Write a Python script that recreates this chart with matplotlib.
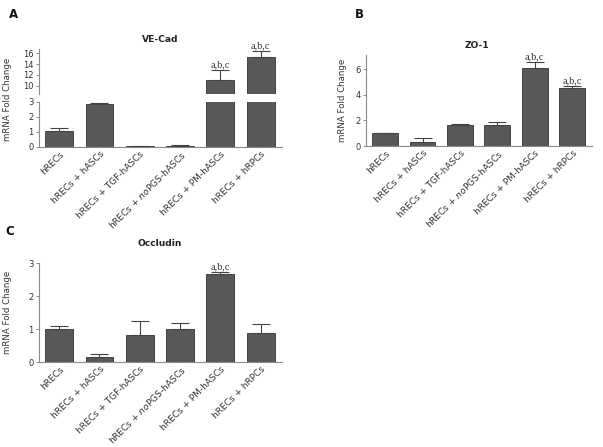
import matplotlib
matplotlib.use("Agg")
import matplotlib.pyplot as plt
import numpy as np

categories = ["hRECs", "hRECs + hASCs", "hRECs + TGF-hASCs",
              r"hRECs + $\it{no}$PGS-hASCs", "hRECs + PM-hASCs", "hRECs + hRPCs"]

vecad_mean = [1.05, 2.85, 0.03, 0.07, 11.1, 15.3]
vecad_err = [0.17, 0.08, 0.02, 0.06, 1.8, 1.0]
zo1_mean = [1.0, 0.35, 1.62, 1.6, 6.1, 4.5]
zo1_err = [0.02, 0.27, 0.13, 0.28, 0.45, 0.15]
occl_mean = [1.0, 0.15, 0.82, 1.0, 2.67, 0.87]
occl_err = [0.1, 0.08, 0.42, 0.19, 0.08, 0.28]

vecad_sig = ["", "", "", "", "a,b,c", "a,b,c"]
zo1_sig = ["", "", "", "", "a,b,c", "a,b,c"]
occl_sig = ["", "", "", "", "a,b,c", ""]

BAR = "#585858"
EDGE = "#333333"
SPINE = "#8a8a8a"
TXT = "#333333"
TICKFS = 6.5
YTICKFS = 6.0

W, H = 603, 447
fig = plt.figure(figsize=(W / 100, H / 100), dpi=100)


def ax_at(x0, y0, x1, y1):
    return fig.add_axes([x0 / W, 1 - y1 / H, (x1 - x0) / W, (y1 - y0) / H])


def style(ax, bottom=True):
    for s in ["top", "right"]:
        ax.spines[s].set_visible(False)
    ax.spines["left"].set_color(SPINE)
    ax.spines["bottom"].set_color(SPINE)
    ax.spines["left"].set_linewidth(0.8)
    ax.spines["bottom"].set_linewidth(0.8)
    if not bottom:
        ax.spines["bottom"].set_visible(False)
    ax.tick_params(axis="y", labelsize=YTICKFS, colors=SPINE, labelcolor=TXT,
                   length=2.5, width=0.7, pad=1.5)
    ax.tick_params(axis="x", length=0, labelsize=TICKFS, labelcolor=TXT, pad=2)


def bars(ax, mean, err, xr=(-0.5, 5.53)):
    x = np.arange(len(mean))
    ax.bar(x, mean, width=0.69, color=BAR, edgecolor=EDGE, linewidth=0.6, zorder=2)
    ax.errorbar(x, mean, yerr=[np.zeros(len(err)), err], fmt="none",
                ecolor="#444444", elinewidth=0.8, capsize=6.5, capthick=0.8, zorder=3)
    ax.set_xlim(*xr)
    return x


def xlabels(ax, x):
    ax.set_xticks(x)
    ax.set_xticklabels(categories, rotation=45, ha="right", rotation_mode="anchor")


def sigtext(ax, x, mean, err, sig, offset):
    for xi, m, e, s in zip(x, mean, err, sig):
        if s:
            ax.text(xi, m + e + offset, s, ha="center", va="bottom",
                    fontsize=7.4, family="Liberation Serif", color=TXT)


# ---- Panel A: VE-Cad (broken axis) ----
axA_lo = ax_at(39, 101.7, 282, 146.7)
axA_hi = ax_at(39, 49.3, 282, 94)
style(axA_lo)
style(axA_hi, bottom=False)
xA = bars(axA_lo, vecad_mean, vecad_err)
bars(axA_hi, vecad_mean, vecad_err)
axA_lo.set_ylim(0, 3)
axA_lo.set_yticks([0, 1, 2, 3])
axA_hi.set_ylim(8.5, 16.7)
axA_hi.set_yticks([10, 12, 14, 16])
axA_hi.set_xticks([])
xlabels(axA_lo, xA)
sigtext(axA_hi, xA, vecad_mean, vecad_err, vecad_sig, 0.15)
axA_lo.set_ylabel("mRNA Fold Change", fontsize=6.2, color=TXT)
axA_lo.yaxis.set_label_coords(-27 / 243, 1.05)
fig.text(160 / W, 1 - 39 / H, "VE-Cad", ha="center", va="center",
         fontsize=6.6, fontweight="bold", color="#222222")
fig.text(9 / W, 1 - 15 / H, "A", ha="left", va="center",
         fontsize=8.5, fontweight="bold", color="#111111")

# ---- Panel B: ZO-1 ----
axB = ax_at(366, 55, 592, 146)
style(axB)
xB = bars(axB, zo1_mean, zo1_err, xr=(-0.51, 5.53))
axB.set_ylim(0, 7.1)
axB.set_yticks([0, 2, 4, 6])
xlabels(axB, xB)
sigtext(axB, xB, zo1_mean, zo1_err, zo1_sig, 0.05)
axB.set_ylabel("mRNA Fold Change", fontsize=6.2, color=TXT)
axB.yaxis.set_label_coords(-19 / 226, 0.5)
fig.text(477 / W, 1 - 45 / H, "ZO-1", ha="center", va="center",
         fontsize=6.6, fontweight="bold", color="#222222")
fig.text(355 / W, 1 - 15 / H, "B", ha="left", va="center",
         fontsize=8.5, fontweight="bold", color="#111111")

# ---- Panel C: Occludin ----
axC = ax_at(39, 263.3, 282, 362)
style(axC)
xC = bars(axC, occl_mean, occl_err)
axC.set_ylim(0, 3)
axC.set_yticks([0, 1, 2, 3])
xlabels(axC, xC)
sigtext(axC, xC, occl_mean, occl_err, occl_sig, 0.02)
axC.set_ylabel("mRNA Fold Change", fontsize=6.2, color=TXT)
axC.yaxis.set_label_coords(-27 / 243, 0.5)
fig.text(160 / W, 1 - 243 / H, "Occludin", ha="center", va="center",
         fontsize=6.6, fontweight="bold", color="#222222")
fig.text(5 / W, 1 - 232 / H, "C", ha="left", va="center",
         fontsize=8.5, fontweight="bold", color="#111111")

fig.savefig("out.png", dpi=100)
